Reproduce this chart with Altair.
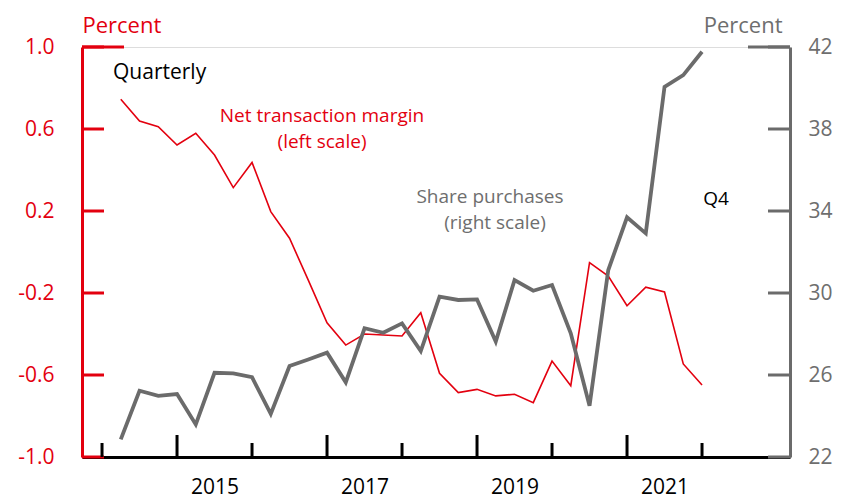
import altair as alt
import pandas as pd

# ---------------- data ----------------
quarters = [f"{y}Q{q}" for y in range(2014, 2022) for q in range(1, 5)]
net_margin = [0.745, 0.639, 0.611, 0.522, 0.579, 0.473, 0.314, 0.437,
              0.197, 0.067, -0.137, -0.345, -0.454, -0.400, -0.405, -0.410,
              -0.296, -0.592, -0.686, -0.670, -0.702, -0.694, -0.735, -0.532,
              -0.652, -0.052, -0.117, -0.262, -0.172, -0.195, -0.546, -0.649]
share_purchases = [22.86, 25.23, 24.98, 25.07, 23.59, 26.11, 26.08, 25.89,
                   24.10, 26.44, 26.76, 27.09, 25.64, 28.28, 28.06, 28.52,
                   27.17, 29.82, 29.66, 29.69, 27.63, 30.63, 30.11, 30.39,
                   28.03, 24.50, 31.12, 33.69, 32.91, 40.06, 40.63, 41.77]
left_ticks = [-1.0, -0.6, -0.2, 0.2, 0.6, 1.0]
right_ticks = [22, 26, 30, 34, 38, 42]
year_ticks = list(range(2014, 2023))
year_labels = [2015, 2017, 2019, 2021]

RED = "#e3000f"
GRAY = "#6b6b6b"
GRAYTXT = "#6e6e6e"
FONT = "Open Sans"
W, H = 708, 410

# quarter-end position in years
t = [int(q[:4]) + int(q[-1]) * 0.25 for q in quarters]
df = pd.DataFrame({"t": t, "red": net_margin, "gray": share_purchases})

X_DOMAIN = [2013.733, 2023.173]
X_ENC = alt.X("t:Q", scale=alt.Scale(domain=X_DOMAIN, nice=False, zero=False),
              axis=alt.Axis(values=[y + 0.5 for y in year_labels],
                            labelExpr="floor(datum.value)",
                            ticks=False, grid=False, domain=True,
                            domainColor="black", domainWidth=3,
                            labelFont=FONT, labelFontSize=21, labelColor="black",
                            labelPadding=19, labelFlush=False, title=None))

left_scale = alt.Scale(domain=[-1, 1], nice=False, zero=False)
right_scale = alt.Scale(domain=[22, 42], nice=False, zero=False)

LEFT_AXIS = alt.Axis(orient="left", values=left_ticks,
                     labelExpr="datum.value < 0 ? '-' + format(abs(datum.value), '.1f') : format(datum.value, '.1f')",
                     ticks=False, grid=False, domain=True,
                     domainColor=RED, domainWidth=3,
                     labelColor=RED, labelFont=FONT, labelFontSize=21,
                     labelPadding=28, labelFlush=False, labelOverlap=False,
                     title="Percent", titleAngle=0, titleAlign="left",
                     titleBaseline="alphabetic", titleX=0, titleY=-15,
                     titleColor=RED, titleFont=FONT, titleFontSize=22,
                     titleFontWeight="normal")
RIGHT_AXIS = alt.Axis(orient="right", values=right_ticks, format="d",
                      ticks=False, grid=False, domain=True,
                      domainColor=GRAY, domainWidth=3,
                      labelColor=GRAYTXT, labelFont=FONT, labelFontSize=21,
                      labelPadding=18, labelFlush=False, labelOverlap=False,
                      title="Percent", titleAngle=0, titleAlign="right",
                      titleBaseline="alphabetic", titleX=-8, titleY=-15,
                      titleColor=GRAYTXT, titleFont=FONT, titleFontSize=22,
                      titleFontWeight="normal")

# ---------- left (red) ----------
red_line = alt.Chart(df).mark_line(color=RED, strokeWidth=1.6).encode(
    x=X_ENC,
    y=alt.Y("red:Q", scale=left_scale, axis=LEFT_AXIS),
)
lt_df = pd.DataFrame({"v": left_ticks})
red_ticks = alt.Chart(lt_df).mark_rule(color=RED, strokeWidth=3).encode(
    y=alt.Y("v:Q", scale=left_scale, axis=LEFT_AXIS),
    x=alt.value(0),
    x2=alt.value(22),
)
red_top = alt.Chart(pd.DataFrame({"v": [1.0]})).mark_rule(color=RED, strokeWidth=3).encode(
    y=alt.Y("v:Q", scale=left_scale, axis=LEFT_AXIS),
    x=alt.value(0),
    x2=alt.value(42),
)
left = alt.layer(red_line, red_ticks, red_top)

# ---------- right (gray) ----------
gray_line = alt.Chart(df).mark_line(color=GRAY, strokeWidth=3.8).encode(
    x=X_ENC,
    y=alt.Y("gray:Q", scale=right_scale, axis=RIGHT_AXIS),
)
gray_ticks = alt.Chart(pd.DataFrame({"v": right_ticks})).mark_rule(color=GRAY, strokeWidth=3).encode(
    y=alt.Y("v:Q", scale=right_scale, axis=RIGHT_AXIS),
    x=alt.value(W - 22),
    x2=alt.value(W),
)
gray_top = alt.Chart(pd.DataFrame({"v": [42]})).mark_rule(color=GRAY, strokeWidth=3).encode(
    y=alt.Y("v:Q", scale=right_scale, axis=RIGHT_AXIS),
    x=alt.value(W - 42),
    x2=alt.value(W),
)
right = alt.layer(gray_line, gray_ticks, gray_top)

# ---------- x ticks ----------
xt_df = pd.DataFrame({"t": year_ticks})
xt_df["major"] = [y in year_labels for y in year_ticks]
x_major = alt.Chart(xt_df).transform_filter("datum.major").mark_rule(color="black", strokeWidth=3).encode(
    x=X_ENC, y=alt.value(H - 22), y2=alt.value(H))
x_minor = alt.Chart(xt_df).transform_filter("!datum.major").mark_rule(color="black", strokeWidth=3).encode(
    x=X_ENC, y=alt.value(H - 14), y2=alt.value(H))

# ---------- annotations ----------
def label(text, x, y, color, size=19, align="center"):
    return alt.Chart(pd.DataFrame({"s": [text]})).mark_text(
        font=FONT, fontSize=size, color=color, align=align, baseline="middle"
    ).encode(text="s:N", x=alt.value(x), y=alt.value(y))

notes = alt.layer(
    label("Quarterly", 31, 26, "black", size=21, align="left"),
    label("Net transaction margin", 240, 69, RED),
    label("(left scale)", 240, 95, RED),
    label("Share purchases", 408, 150, GRAYTXT),
    label("(right scale)", 413, 176, GRAYTXT),
    label("Q4", 634, 152, "black"),
)

chart = alt.layer(left, right, x_major, x_minor, notes).resolve_scale(
    y="independent"
).properties(
    width=W, height=H,
    autosize=alt.AutoSizeParams(type="none"),
    padding={"left": 74, "top": 39, "right": 43, "bottom": 44},
).configure_view(stroke="transparent", strokeWidth=0).configure(background="white")

chart.save("out.html", embed_options={"renderer": "svg", "actions": False})
